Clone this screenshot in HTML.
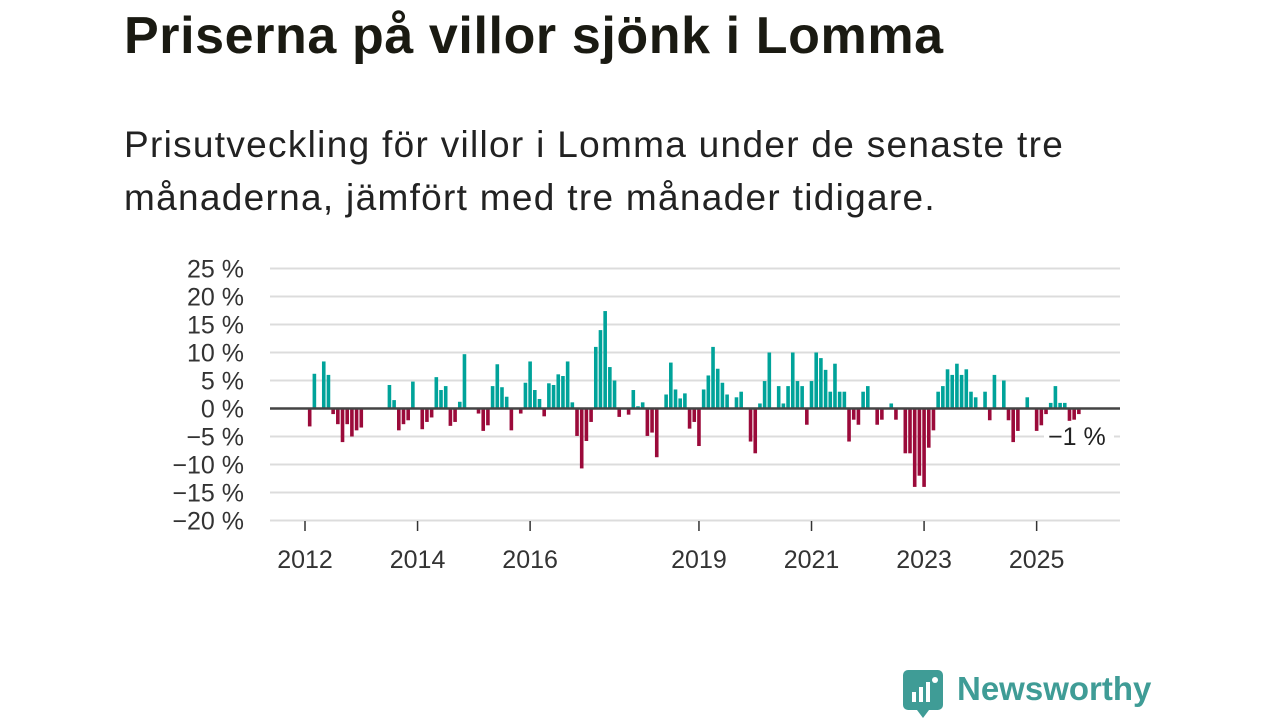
<!DOCTYPE html>
<html><head><meta charset="utf-8"><style>
body{margin:0;width:1280px;height:720px;background:#fff;overflow:hidden;font-family:"Liberation Sans",sans-serif;position:relative}
#title{position:absolute;left:124px;top:6px;font-size:52px;font-weight:bold;color:#1a1a12;white-space:nowrap;margin:0;letter-spacing:0.6px}
#sub{position:absolute;left:124px;top:118px;font-size:37px;line-height:53px;color:#222;margin:0;white-space:nowrap;letter-spacing:1.3px}
#logo{position:absolute;left:903px;top:670px}
#logotext{position:absolute;left:957px;top:670px;font-size:33px;font-weight:bold;color:#3f9c96}
</style></head><body>
<h1 id="title">Priserna på villor sjönk i Lomma</h1>
<p id="sub">Prisutveckling för villor i Lomma under de senaste tre<br>månaderna, jämfört med tre månader tidigare.</p>
<svg id="chart" width="1280" height="720" style="position:absolute;left:0;top:0"></svg>
<svg id="logo" width="42" height="50" viewBox="0 0 42 50">
<rect x="0" y="0" width="40" height="40" rx="5" fill="#3f9c96"/><polygon points="14,40 26,40 20,48" fill="#3f9c96"/>
<rect x="9" y="22" width="4" height="10" fill="#fff"/><rect x="16" y="17" width="4" height="15" fill="#fff"/><rect x="23" y="12" width="4" height="20" fill="#fff"/><circle cx="32" cy="10" r="3" fill="#fff"/></svg>
<div id="logotext">Newsworthy</div>
<script>
const monthIdx=[1,2,4,5,6,7,8,9,10,11,12,18,19,20,21,22,23,25,26,27,28,29,30,31,32,33,34,37,38,39,40,41,42,43,44,46,47,48,49,50,51,52,53,54,55,56,57,58,59,60,61,62,63,64,65,66,67,69,70,71,72,73,74,75,77,78,79,80,81,82,83,84,85,86,87,88,89,90,92,93,95,96,97,98,99,101,102,103,104,105,106,107,108,109,110,111,112,113,114,115,116,117,118,119,120,122,123,125,126,128,129,130,131,132,133,134,135,136,137,138,139,140,141,142,143,145,146,147,149,150,151,152,154,156,157,158,159,160,161,162,163,164,165];
const values=[-3.2,6.2,8.4,6,-1,-2.8,-6,-2.8,-5,-3.9,-3.4,4.2,1.5,-3.9,-2.8,-2.1,4.8,-3.7,-2.4,-1.6,5.6,3.3,4,-3.1,-2.4,1.2,9.7,-0.9,-4,-3,4,7.9,3.8,2.1,-3.9,-0.9,4.6,8.4,3.3,1.7,-1.4,4.5,4.2,6.1,5.8,8.4,1.1,-4.9,-10.7,-5.8,-2.4,11,14,17.4,7.4,5,-1.5,-1.1,3.3,0.4,1.1,-4.9,-4.3,-8.7,2.5,8.2,3.4,1.8,2.7,-3.6,-2.4,-6.7,3.4,5.9,11,7.1,4.6,2.5,2,3,-5.9,-8,0.9,4.9,10,4,0.9,4,10,4.9,4,-2.9,4.9,10,9,6.9,3,8,3,3,-5.9,-2,-2.9,3,4,-2.9,-2,0.9,-2,-8,-8,-14,-12,-14,-7,-3.9,3,4,7,6,8,6,7,3,2,3,-2.1,6,5,-2.1,-6,-4,2,-4,-3,-1,1,4,1,1,-2.2,-2,-1];
const yTicks=[25,20,15,10,5,0,-5,-10,-15,-20];
const yearLabels=["2012","2014","2016","2019","2021","2023","2025"];
const yearVals=[2012,2014,2016,2019,2021,2023,2025];
const NS="http://www.w3.org/2000/svg";
const svg=document.getElementById('chart');
const y=v=>408.5-v*5.6;
const x=m=>305+m*4.69;
const xYear=yr=>x((yr-2012)*12);
function mk(t,a){const e=document.createElementNS(NS,t);for(const k in a)e.setAttribute(k,a[k]);svg.appendChild(e);return e;}
yTicks.forEach(v=>{
 if(v!==0){const g=mk('line',{x1:270,x2:1120,y1:y(v),y2:y(v),stroke:'#dcdcdc','stroke-width':2});
 
 }
 const t=mk('text',{x:244,y:y(v)+9,'text-anchor':'end','font-size':25,fill:'#333','font-family':'Liberation Sans, sans-serif'});
 t.textContent=(v<0?'\u2212'+(-v):v)+' %';
 
 
});
yearVals.forEach((yr,i)=>{
 const tk=mk('line',{x1:xYear(yr),x2:xYear(yr),y1:521,y2:531,stroke:'#333','stroke-width':1.5});
 
 
 const t=mk('text',{x:xYear(yr),y:568,'text-anchor':'middle','font-size':25,fill:'#333','font-family':'Liberation Sans, sans-serif'});
 t.textContent=yearLabels[i];
 
 
});
values.forEach((v,i)=>{
 const r=mk('rect',{x:x(monthIdx[i])-1.8,width:3.6,y:v>=0?y(v):y(0),height:Math.abs(v)*5.6,fill:v>=0?'#00a39a':'#9b0a3a'});
 
 
});
const z=mk('line',{x1:270,x2:1120,y1:y(0),y2:y(0),stroke:'#444','stroke-width':2.5});


const bg=mk('rect',{x:1044,y:424,width:70,height:26,fill:'#fff'});


const lbl=mk('text',{x:1048,y:445,'font-size':25,fill:'#222','font-family':'Liberation Sans, sans-serif'});
lbl.textContent='\u22121 %';


</script>
</body></html>
